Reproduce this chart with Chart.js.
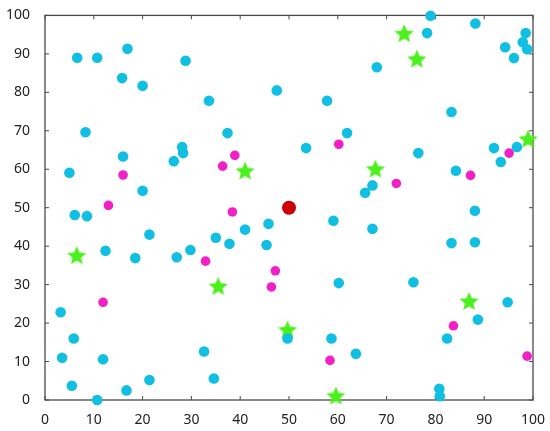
<!DOCTYPE html>
<html>
<head>
<meta charset="utf-8">
<script src="https://cdn.jsdelivr.net/npm/chart.js@4/dist/chart.umd.min.js"></script>
<style>
  html, body { margin: 0; padding: 0; background: #fff; }
  #wrap { width: 550px; height: 431px; }
</style>
</head>
<body>
<div id="wrap"><canvas id="scatterChart"></canvas></div>
<script>
var tickValues = [0, 10, 20, 30, 40, 50, 60, 70, 80, 90, 100];

var cyanX = [6.6, 10.7, 16.9, 15.8, 20.0, 28.8, 33.6, 47.5, 8.3, 37.4, 28.1, 28.3, 26.4, 16.0, 5.0, 20.0,
             79.0, 88.2, 78.3, 98.5, 94.3, 97.9, 98.8, 96.1, 68.0, 57.8, 83.3, 61.9, 53.5, 76.5, 92.0, 96.7, 93.4, 84.2, 67.1, 65.6, 88.1,
             6.1, 8.6, 21.4, 12.4, 18.5, 27.0, 29.8, 35.0, 37.8, 41.0, 45.8, 45.4, 3.2, 5.9, 3.5, 11.9, 5.5, 16.7, 21.4, 10.7, 32.6, 34.6,
             59.1, 67.1, 83.3, 88.1, 60.2, 75.5, 94.8, 88.7, 82.4, 49.7, 58.7, 63.7, 80.8, 80.9];
var cyanY = [89.0, 89.0, 91.3, 83.7, 81.7, 88.2, 77.8, 80.5, 69.6, 69.4, 65.8, 64.2, 62.1, 63.3, 59.1, 54.4,
             99.9, 97.9, 95.4, 95.4, 91.7, 93.0, 91.2, 88.9, 86.5, 77.8, 74.9, 69.4, 65.5, 64.2, 65.5, 65.8, 61.9, 59.6, 55.8, 53.9, 49.2,
             48.1, 47.8, 43.0, 38.8, 36.9, 37.1, 39.0, 42.2, 40.6, 44.3, 45.8, 40.3, 22.8, 16.0, 11.0, 10.6, 3.7, 2.5, 5.2, 0.0, 12.6, 5.6,
             46.6, 44.5, 40.8, 41.0, 30.4, 30.6, 25.4, 20.9, 16.0, 16.0, 16.0, 12.0, 2.9, 1.0];

var magentaX = [16.0, 36.4, 38.9, 13.0, 38.4, 60.2, 72.0, 87.2, 95.1, 32.9, 11.9, 47.2, 46.4, 83.7, 58.4, 98.8];
var magentaY = [58.5, 60.8, 63.6, 50.6, 48.9, 66.5, 56.3, 58.4, 64.2, 36.1, 25.4, 33.6, 29.4, 19.3, 10.3, 11.4];

var starX = [41.0, 73.6, 76.2, 99.0, 67.7, 6.5, 35.5, 49.7, 59.6, 86.9];
var starY = [59.4, 95.1, 88.5, 67.7, 59.9, 37.4, 29.4, 18.1, 0.9, 25.5];

var centerX = [50];
var centerY = [50];

function toPoints(xs, ys) {
    return xs.map(function (x, i) { return { x: x, y: ys[i] }; });
}

// filled five-point star for the green marks
function makeStar(r, color) {
    var c = document.createElement('canvas');
    c.width = r * 2 + 2;
    c.height = r * 2 + 2;
    var ctx = c.getContext('2d');
    var cx = r + 1, cy = r + 1, inner = r * 0.45;
    ctx.beginPath();
    for (var i = 0; i < 10; i++) {
        var rad = i % 2 === 0 ? r : inner;
        var a = -Math.PI / 2 + i * Math.PI / 5;
        ctx.lineTo(cx + rad * Math.cos(a), cy + rad * Math.sin(a));
    }
    ctx.closePath();
    ctx.fillStyle = color;
    ctx.fill();
    return c;
}

var starImg = makeStar(10, '#4cf01c');

// box frame with inward ticks
var framePlugin = {
    id: 'frame',
    beforeDatasetsDraw: function (chart) {
        var ctx = chart.ctx, a = chart.chartArea;
        var xs = chart.scales.x, ys = chart.scales.y;
        ctx.save();
        ctx.strokeStyle = '#4a4a4a';
        ctx.lineWidth = 1.3;
        ctx.strokeRect(a.left, a.top, a.right - a.left, a.bottom - a.top);
        ctx.lineWidth = 1;
        ctx.beginPath();
        tickValues.forEach(function (v) {
            var px = xs.getPixelForValue(v);
            ctx.moveTo(px, a.bottom); ctx.lineTo(px, a.bottom - 4);
            ctx.moveTo(px, a.top); ctx.lineTo(px, a.top + 4);
            var py = ys.getPixelForValue(v);
            ctx.moveTo(a.left, py); ctx.lineTo(a.left + 4, py);
            ctx.moveTo(a.right, py); ctx.lineTo(a.right - 4, py);
        });
        ctx.stroke();
        ctx.restore();
    }
};

var tickFont = { family: 'Noto Sans', size: 14 };

new Chart('scatterChart', {
    type: 'scatter',
    data: {
        datasets: [{
            data: toPoints(centerX, centerY),
            backgroundColor: '#cc0000',
            borderWidth: 0,
            pointRadius: 7,
            clip: false,
            order: 1
        }, {
            data: toPoints(magentaX, magentaY),
            backgroundColor: '#f21fc6',
            borderWidth: 0,
            pointRadius: 4.8,
            clip: false,
            order: 2
        }, {
            data: toPoints(cyanX, cyanY),
            backgroundColor: '#10bfe2',
            borderWidth: 0,
            pointRadius: 5.3,
            clip: false,
            order: 3
        }, {
            data: toPoints(starX, starY),
            pointStyle: starImg,
            clip: false,
            order: 4
        }]
    },
    options: {
        responsive: true,
        maintainAspectRatio: false,
        animation: false,
        layout: { padding: { top: 15, right: 17, left: 0, bottom: 0 } },
        plugins: {
            legend: { display: false },
            tooltip: { enabled: false }
        },
        scales: {
            x: {
                type: 'linear',
                min: 0,
                max: 100,
                afterBuildTicks: function (s) { s.ticks = tickValues.map(function (v) { return { value: v }; }); },
                afterFit: function (s) { s.height = 31; },
                grid: { display: false },
                border: { display: false },
                ticks: { color: '#222', font: tickFont, padding: 4, maxRotation: 0 }
            },
            y: {
                type: 'linear',
                min: 0,
                max: 100,
                afterBuildTicks: function (s) { s.ticks = tickValues.map(function (v) { return { value: v }; }); },
                afterFit: function (s) { s.width = 45; },
                grid: { display: false },
                border: { display: false },
                ticks: { color: '#222', font: tickFont, padding: 7 }
            }
        }
    },
    plugins: [framePlugin]
});
</script>
</body>
</html>
